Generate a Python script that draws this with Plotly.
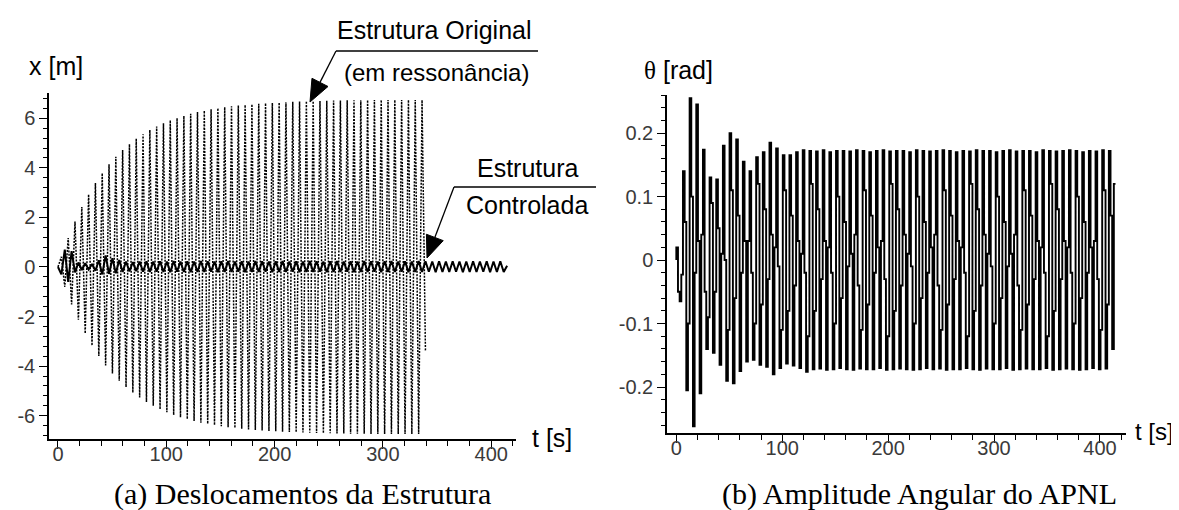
import numpy as np
import plotly.graph_objects as go

W, H = 1179, 510

# ---------------- data ----------------
# (a) original structure: amplitude of each half-cycle peak (|x| in m), peaks every half period
orig_half_period = 3.1416
orig_peak_amp = [
    0.41, 0.80, 1.17, 1.51, 1.83, 2.13, 2.42, 2.68, 2.93, 3.17,
    3.39, 3.59, 3.79, 3.97, 4.14, 4.30, 4.45, 4.59, 4.72, 4.85,
    4.96, 5.07, 5.18, 5.27, 5.36, 5.45, 5.53, 5.60, 5.67, 5.74,
    5.80, 5.86, 5.92, 5.97, 6.01, 6.06, 6.10, 6.14, 6.18, 6.21,
    6.25, 6.28, 6.31, 6.33, 6.36, 6.38, 6.41, 6.43, 6.45, 6.47,
    6.48, 6.50, 6.52, 6.53, 6.54, 6.56, 6.57, 6.58, 6.59, 6.60,
    6.61, 6.62, 6.62, 6.63, 6.64, 6.65, 6.65, 6.66, 6.67, 6.67,
    6.68, 6.68, 6.69, 6.69, 6.69, 6.70, 6.70, 6.71, 6.71, 6.71,
    6.72, 6.72, 6.72, 6.72, 6.73, 6.73, 6.73, 6.73, 6.73, 6.73,
    6.74, 6.74, 6.74, 6.74, 6.74, 6.74, 6.74, 6.74, 6.74, 6.74,
    6.74, 6.74, 6.74, 6.74, 6.74, 6.74, 6.74,
]
orig_end_value = -3.4

# (a) controlled structure: signed half-cycle peaks (m)
ctrl_half_period = 3.1416
ctrl_peaks = [
    0.00, -0.30, 0.70, -0.60, 0.64, -0.22, 0.18, -0.12, 0.15, -0.10,
    0.12, -0.15, 0.27, -0.30, 0.47, -0.28, 0.35, -0.25, 0.28, -0.20,
    0.22, -0.18, 0.20, -0.17, 0.22, -0.19, 0.23, -0.20, 0.22, -0.19,
    0.23, -0.20, 0.22, -0.21, 0.24, -0.19, 0.22, -0.20, 0.23, -0.21,
    0.22, -0.20, 0.24, -0.20, 0.23, -0.19, 0.22, -0.21, 0.23, -0.20,
    0.24, -0.20, 0.22, -0.19, 0.23, -0.21, 0.22, -0.20, 0.24, -0.20,
    0.23, -0.19, 0.22, -0.21, 0.23, -0.20, 0.24, -0.20, 0.22, -0.19,
    0.23, -0.21, 0.22, -0.20, 0.24, -0.20, 0.23, -0.19, 0.22, -0.21,
    0.23, -0.20, 0.24, -0.20, 0.22, -0.19, 0.23, -0.21, 0.22, -0.20,
    0.24, -0.20, 0.23, -0.19, 0.22, -0.21, 0.23, -0.20, 0.24, -0.20,
    0.22, -0.19, 0.23, -0.21, 0.22, -0.20, 0.24, -0.20, 0.23, -0.19,
    0.22, -0.21, 0.23, -0.20, 0.22, -0.20, 0.23, -0.19, 0.22, -0.21,
    0.22, -0.20, 0.23, -0.20, 0.22, -0.19, 0.23, -0.21, 0.22, -0.20,
    0.23, -0.20, 0.05,
]

# (b) APNL angle: per cycle (period ~6.28 s) four vertices: up-kink, max, down-kink, min (rad)
theta_step = 1.5708
theta_up_kink = [
    0.000, -0.023, -0.10, -0.02, 0.04, -0.09, -0.05, 0.01, -0.11, -0.06,
    -0.02, 0.03, -0.10, -0.07, -0.03, 0.02, -0.11, -0.08, -0.04, 0.01,
    -0.12, -0.08, -0.03, 0.02, -0.10, -0.06, -0.01, 0.04, -0.11, -0.07,
    -0.02, 0.03, -0.12, -0.08, -0.04, 0.01, -0.10, -0.06, -0.02, 0.04,
    -0.11, -0.07, -0.03, 0.02, -0.12, -0.08, -0.04, 0.01, -0.10, -0.06,
    -0.01, 0.04, -0.11, -0.07, -0.03, 0.02, -0.12, -0.08, -0.03, 0.02,
    -0.10, -0.06, -0.02, 0.03, -0.11, -0.07,
]
theta_max = [
    0.020, 0.140, 0.255, 0.245, 0.174, 0.130, 0.127, 0.180, 0.200, 0.190,
    0.155, 0.140, 0.162, 0.170, 0.185, 0.176, 0.165, 0.165, 0.170, 0.173,
    0.172, 0.171, 0.173, 0.170, 0.172, 0.172, 0.171, 0.173, 0.172, 0.170,
    0.172, 0.173, 0.171, 0.172, 0.172, 0.170, 0.173, 0.172, 0.171, 0.172,
    0.173, 0.172, 0.170, 0.172, 0.171, 0.173, 0.172, 0.172, 0.170, 0.172,
    0.173, 0.171, 0.172, 0.172, 0.170, 0.173, 0.172, 0.171, 0.172, 0.173,
    0.172, 0.170, 0.172, 0.171, 0.173, 0.172,
]
theta_down_kink = [
    -0.050, 0.060, 0.10, 0.03, -0.05, 0.09, 0.05, 0.00, 0.11, 0.07,
    0.03, -0.02, 0.12, 0.08, 0.04, -0.01, 0.11, 0.07, 0.03, -0.02,
    0.12, 0.08, 0.03, -0.02, 0.10, 0.06, 0.01, -0.04, 0.11, 0.07,
    0.02, -0.03, 0.12, 0.08, 0.04, -0.01, 0.10, 0.06, 0.02, -0.04,
    0.11, 0.07, 0.03, -0.02, 0.12, 0.08, 0.04, -0.01, 0.10, 0.06,
    0.01, -0.04, 0.11, 0.07, 0.03, -0.02, 0.12, 0.08, 0.03, -0.02,
    0.10, 0.06, 0.02, -0.03, 0.11, 0.07,
]
theta_min = [
    -0.065, -0.205, -0.262, -0.210, -0.140, -0.146, -0.165, -0.190, -0.194, -0.175,
    -0.160, -0.157, -0.165, -0.168, -0.180, -0.170, -0.163, -0.166, -0.170, -0.176,
    -0.172, -0.171, -0.173, -0.172, -0.170, -0.172, -0.173, -0.171, -0.172, -0.172,
    -0.170, -0.173, -0.172, -0.171, -0.172, -0.173, -0.172, -0.170, -0.172, -0.171,
    -0.173, -0.172, -0.172, -0.170, -0.172, -0.173, -0.171, -0.172, -0.172, -0.170,
    -0.173, -0.172, -0.171, -0.172, -0.172, -0.170, -0.173, -0.172, -0.171, -0.172,
    -0.173, -0.172, -0.170, -0.172, -0.171, -0.140,
]
theta_end_value = 0.12

# tick labels
x_ticks = [0, 100, 200, 300, 400]
x_ticktext = ["0", "100", "200", "300", "400"]
ya_ticks = [-6, -4, -2, 0, 2, 4, 6]
ya_ticktext = ["-6", "-4", "-2", "0", "2", "4", "6"]
yb_ticks = [-0.2, -0.1, 0, 0.1, 0.2]
yb_ticktext = ["-0.2", "-0.1", "0", "0.1", "0.2"]

# ---------------- build series ----------------
orig_vals = [0.0] + [a if (i % 2 == 0) else -a for i, a in enumerate(orig_peak_amp)] + [orig_end_value]
orig_t = np.arange(len(orig_vals)) * orig_half_period

ctrl_t = np.arange(len(ctrl_peaks)) * ctrl_half_period

theta_vals = []
for a, hi, b, lo in zip(theta_up_kink, theta_max, theta_down_kink, theta_min):
    theta_vals += [a, hi, b, lo]
theta_vals.append(theta_end_value)
theta_t = np.arange(len(theta_vals)) * theta_step

# ---------------- figure ----------------
def px(x):
    return x / W

def py(y):
    return 1 - y / H

fig = go.Figure()
fig.add_trace(go.Scatter(x=orig_t, y=orig_vals, mode="lines", xaxis="x", yaxis="y",
                         line=dict(color="black", width=1.5, dash="2px,1.3px"),
                         hoverinfo="skip", showlegend=False))
fig.add_trace(go.Scatter(x=ctrl_t, y=ctrl_peaks, mode="lines", xaxis="x", yaxis="y",
                         line=dict(color="black", width=2),
                         hoverinfo="skip", showlegend=False))
fig.add_trace(go.Scatter(x=theta_t, y=theta_vals, mode="lines", xaxis="x2", yaxis="y2",
                         line=dict(color="black", width=1.9, shape="vh"),
                         hoverinfo="skip", showlegend=False))

tickfont = dict(family="Liberation Sans, Arial, sans-serif", size=20, color="#3a3a3a")
base = dict(showline=True, linecolor="black", linewidth=1.5, ticks="outside",
            tickcolor="black", tickwidth=1.3, showgrid=False, zeroline=False,
            tickfont=tickfont, fixedrange=True)

fig.update_layout(
    width=W, height=H,
    margin=dict(l=0, r=0, t=0, b=0),
    paper_bgcolor="white", plot_bgcolor="white",
    showlegend=False,
    xaxis=dict(base, domain=[px(41), px(508)], range=[-8.3, 422.9], anchor="y",
               tickmode="array", tickvals=x_ticks, ticktext=x_ticktext, ticklen=8,
               ticklabelstandoff=-12,
               minor=dict(tickmode="linear", tick0=0, dtick=20, ticklen=5, ticks="outside",
                          tickcolor="black", tickwidth=1.3, showgrid=False)),
    yaxis=dict(base, domain=[py(431), py(85)], range=[-6.94, 7.02], anchor="x",
               tickmode="array", tickvals=ya_ticks, ticktext=ya_ticktext, ticklen=8,
               minor=dict(tickmode="linear", tick0=0, dtick=0.4, ticklen=4, ticks="outside",
                          tickcolor="black", tickwidth=1.3, showgrid=False)),
    xaxis2=dict(base, domain=[px(659), px(1118)], range=[-8.8, 424.6], anchor="y2",
                tickmode="array", tickvals=x_ticks, ticktext=x_ticktext, ticklen=8,
                ticklabelstandoff=-12,
                minor=dict(tickmode="linear", tick0=0, dtick=20, ticklen=5, ticks="outside",
                           tickcolor="black", tickwidth=1.3, showgrid=False)),
    yaxis2=dict(base, domain=[py(425), py(87)], range=[-0.2724, 0.26], anchor="x2",
                tickmode="array", tickvals=yb_ticks, ticktext=yb_ticktext, ticklen=8,
                minor=dict(tickmode="linear", tick0=0, dtick=0.02, ticklen=4, ticks="outside",
                           tickcolor="black", tickwidth=1.3, showgrid=False)),
)

sans = "Liberation Sans, Arial, sans-serif"
serif = "Liberation Serif, Times New Roman, serif"

def label(text, x, y, size, family=sans, xanchor="center"):
    fig.add_annotation(text=text, x=px(x), y=py(y), xref="paper", yref="paper",
                       showarrow=False, xanchor=xanchor, yanchor="middle",
                       font=dict(family=family, size=size, color="black"))

label("x [m]", 19, 58, 25, xanchor="left")
label("<span style='font-family:Liberation Serif'>θ</span> [rad]", 634, 62, 25, xanchor="left")
label("t [s]", 522, 430, 25, xanchor="left")
label("t [s]", 1125, 423, 24, xanchor="left")
label("Estrutura Original", 426, 22, 25)
label("(em ressonância)", 428, 64, 24)
label("Estrutura", 520, 160, 25)
label("Controlada", 519, 197, 25)
label("(a) Deslocamentos da Estrutura", 294, 486, 30, family=serif)
label("(b) Amplitude Angular do APNL", 911, 486, 30, family=serif)

def seg(x0, y0, x1, y1, w=1.3):
    fig.add_shape(type="line", xref="paper", yref="paper",
                  x0=px(x0), y0=py(y0), x1=px(x1), y1=py(y1),
                  line=dict(color="black", width=w), layer="above")

def arrow(x0, y0, tx, ty, length=22, half=9):
    dx, dy = tx - x0, ty - y0
    n = (dx * dx + dy * dy) ** 0.5
    ux, uy = dx / n, dy / n
    bx, by = tx - length * ux, ty - length * uy
    pxv, pyv = -uy * half, ux * half
    seg(x0, y0, bx, by)
    path = "M {} {} L {} {} L {} {} Z".format(
        px(tx), py(ty), px(bx + pxv), py(by + pyv), px(bx - pxv), py(by - pyv))
    fig.add_shape(type="path", path=path, xref="paper", yref="paper",
                  fillcolor="black", line=dict(color="black", width=1), layer="above")

seg(328, 43, 530, 43)
arrow(328, 43, 302, 94)
seg(446, 179, 588, 179)
arrow(446, 179, 419, 250)

fig.write_html("out.html")
